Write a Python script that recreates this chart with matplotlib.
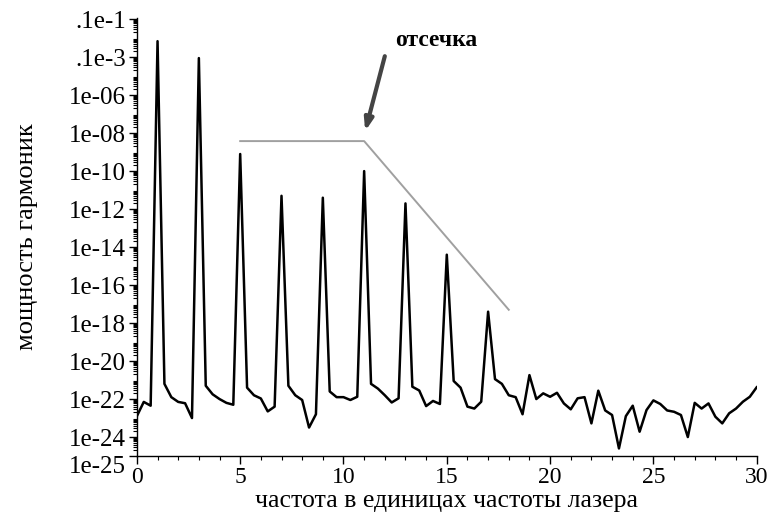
import numpy as np
import matplotlib
matplotlib.use('Agg')
import matplotlib.pyplot as plt
from matplotlib.ticker import FixedLocator, LogLocator, MultipleLocator, NullFormatter

plt.rcParams['font.family'] = ['Liberation Serif', 'DejaVu Serif']

# frequency in laser-frequency units, sampled every 1/3
freq = np.arange(91) / 3.0
# log10 of harmonic power
log_power = [
    -22.9, -22.15, -22.35, -3.16, -21.2, -21.9, -22.15, -22.22, -23.0,
    -4.05, -21.3, -21.75, -22.0, -22.2, -22.3,
    -9.1, -21.4, -21.8, -21.97, -22.65, -22.4,
    -11.3, -21.3, -21.8, -22.05, -23.5, -22.8,
    -11.4, -21.6, -21.9, -21.9, -22.05, -21.88,
    -10.0, -21.2, -21.45, -21.8, -22.18, -21.96,
    -11.7, -21.35, -21.55, -22.37, -22.1, -22.26,
    -14.4, -21.05, -21.4, -22.4, -22.5, -22.14,
    -17.4, -20.95, -21.2, -21.8, -21.9, -22.8,
    -20.74, -22.0, -21.7, -21.88, -21.67, -22.23,
    -22.54, -21.96, -21.9, -23.28, -21.56, -22.6,
    -22.84, -24.6, -22.9, -22.35, -23.72, -22.58,
    -22.07, -22.26, -22.6, -22.67, -22.84, -24.0,
    -22.2, -22.5, -22.23, -22.93, -23.28, -22.75,
    -22.5, -22.14, -21.88, -21.38,
]
power = 10.0 ** np.array(log_power)

# cutoff guide line (gray)
cut_x = [5, 11, 18]
cut_y = [10 ** -8.42, 10 ** -8.42, 10 ** -17.3]

ytick_vals = [1e-2, 1e-4, 1e-6, 1e-8, 1e-10, 1e-12, 1e-14, 1e-16, 1e-18,
              1e-20, 1e-22, 1e-24, 1e-25]
ytick_labels = ['.1e-1', '.1e-3', '1e-06', '1e-08', '1e-10', '1e-12', '1e-14',
                '1e-16', '1e-18', '1e-20', '1e-22', '1e-24', '1e-25']

fig = plt.figure(figsize=(7.69, 5.2), dpi=100)
ax = fig.add_axes([0.178, 0.123, 0.806, 0.842])

ax.plot(freq, power, color='black', linewidth=1.8)
ax.plot(cut_x, cut_y, color='#a0a0a0', linewidth=1.4)

ax.annotate('', xy=(11.05, 10 ** -7.9), xytext=(12.0, 10 ** -3.95),
            arrowprops=dict(arrowstyle='-|>,head_length=0.7,head_width=0.25',
                            color='#444444', linewidth=3.0, shrinkA=0, shrinkB=0))
ax.text(14.5, 10 ** -3.15, 'отсечка', fontsize=17, ha='center', va='center',
        fontweight='bold')

ax.set_yscale('log')
ax.set_xlim(0, 30)
ax.set_ylim(1e-25, 10 ** -1.95)

ax.yaxis.set_major_locator(FixedLocator(ytick_vals))
ax.set_yticklabels(ytick_labels)
ax.yaxis.set_minor_locator(LogLocator(base=10, subs=np.arange(2, 10), numticks=100))
ax.yaxis.set_minor_formatter(NullFormatter())
ax.xaxis.set_major_locator(MultipleLocator(5))
ax.xaxis.set_minor_locator(MultipleLocator(1))

ax.tick_params(axis='both', which='major', direction='out', length=6, width=1.0)
ax.tick_params(axis='both', which='minor', direction='out', length=3, width=0.8)
ax.tick_params(axis='y', which='major', pad=2, labelsize=18)
ax.tick_params(axis='x', which='major', pad=2, labelsize=17)

# bottom label sits a little below its tick
ax.get_yticklabels()[-1].set_va('top')

for s in ['top', 'right']:
    ax.spines[s].set_visible(False)
ax.spines['left'].set_linewidth(1.0)
ax.spines['bottom'].set_linewidth(1.0)

ax.set_xlabel('частота в единицах частоты лазера', fontsize=18.5, labelpad=1)
ax.set_ylabel('мощность гармоник', fontsize=19, labelpad=22)

fig.savefig('out.png', dpi=100)
